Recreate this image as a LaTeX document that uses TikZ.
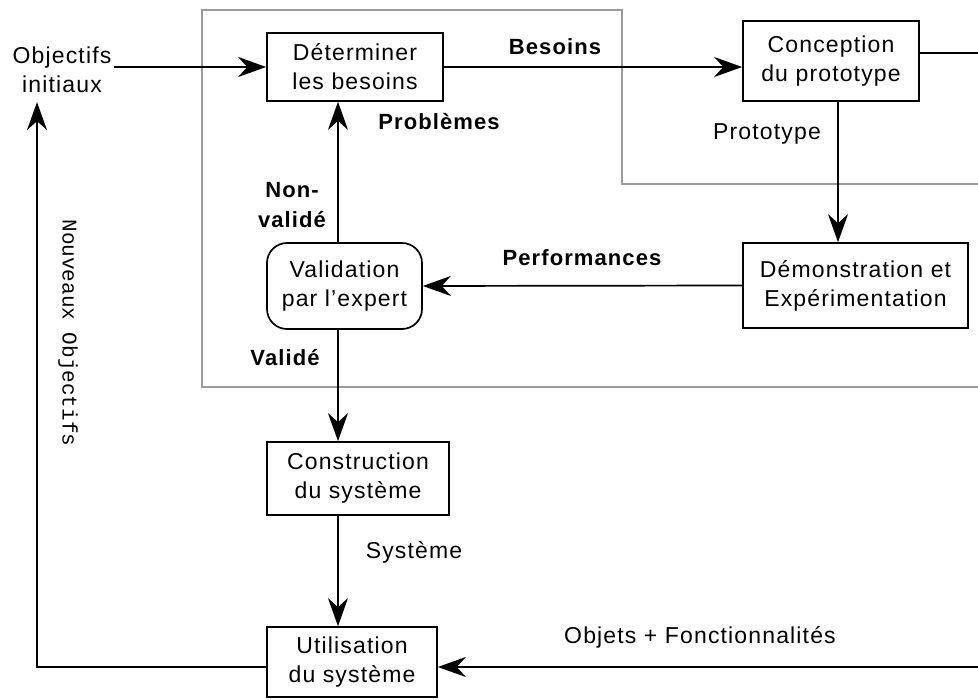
\documentclass[tikz,border=0pt]{standalone}
\usepackage{fontspec}
\setmainfont{Liberation Sans}[LetterSpace=5]
\newfontfamily\nobjfont{Liberation Mono}
\usetikzlibrary{arrows.meta}
\definecolor{framegray}{RGB}{155,155,155}
\tikzset{
  arr/.style={line width=1.7pt, -{Stealth[length=28pt,width=20pt,inset=9pt]}},
  plain/.style={line width=1.7pt},
  boxnode/.style={draw, line width=1.7pt, align=center, inner sep=0pt,
    font=\fontsize{23}{29}\selectfont},
  lbl/.style={align=center, inner sep=2pt, font=\fontsize{23}{29}\selectfont},
  blbl/.style={align=center, inner sep=2pt, font=\fontsize{22}{30}\selectfont\bfseries},
}
\begin{document}
\begin{tikzpicture}[x=1pt,y=-1pt]
\useasboundingbox (0,0) rectangle (978,700);
% gray frame
\draw[framegray, line width=1.5pt] (978,387) -- (202,387) -- (202,10) -- (622,10) -- (622,184) -- (978,184);

% nodes
\node[boxnode, minimum width=176pt, minimum height=68pt] (det) at (355,67) {Déterminer\\les besoins};
\node[boxnode, minimum width=176pt, minimum height=80pt] (conc) at (831,61) {Conception\\du prototype};
\node[boxnode, minimum width=225pt, minimum height=85pt] (demo) at (855.5,285.5) {Démonstration et\\Expérimentation};
\node[boxnode, rounded corners=20pt, minimum width=155pt, minimum height=86pt] (valid) at (344.5,286) {Validation\\par l'expert};
\node[boxnode, minimum width=182pt, minimum height=73pt] (constr) at (358,478.5) {Construction\\du système};
\node[boxnode, minimum width=170pt, minimum height=70pt] (util) at (352,662) {Utilisation\\du système};
\node[lbl] (obj) at (62,70) {Objectifs\\initiaux};

% labels
\node[blbl] (lbes) at (555,47) {Besoins};
\node[lbl] (lproto) at (767,134) {Prototype};
\node[blbl] (lprob) at (439,122) {Problèmes};
\node[blbl] (lnon) at (292,205) {Non-\\validé};
\node[blbl] (lperf) at (582,258) {Performances};
\node[blbl] (lval) at (285,358) {Validé};
\node[lbl] (lsys) at (414,552) {Système};
\node[lbl] (lobjf) at (700,637) {Objets + Fonctionnalités};
\node[rotate=-90, inner sep=0pt, font=\nobjfont\fontsize{21}{24}\selectfont] (lnouv) at (68,333) {Nouveaux Objectifs};

% coordinates
\coordinate (cr) at (978,53);
\coordinate (ur) at (978,667);
\coordinate (bl) at (37,667);

% connectors
\draw[arr] (obj.east |- det.west) -- (det.west);
\draw[arr] (det.east) -- (det.east -| conc.west);
\draw[plain] (conc.east |- cr) -- (cr);
\draw[arr] ([xshift=7pt]conc.south) -- ([xshift=7pt]conc.south |- demo.north);
\draw[arr] (demo.west) -- (valid.east);
\draw[arr] ([xshift=-6.5pt]valid.north) -- ([xshift=-6.5pt]valid.north |- det.south);
\draw[arr] ([xshift=-6.5pt]valid.south) -- ([xshift=-6.5pt]valid.south |- constr.north);
\draw[arr] ([xshift=-20pt]constr.south) -- ([xshift=-20pt]constr.south |- util.north);
\draw[arr] (ur) -- (ur -| util.east);
\draw[arr] (util.west |- bl) -- (bl) -- ([yshift=-7pt]bl |- obj.south);
\end{tikzpicture}
\end{document}
